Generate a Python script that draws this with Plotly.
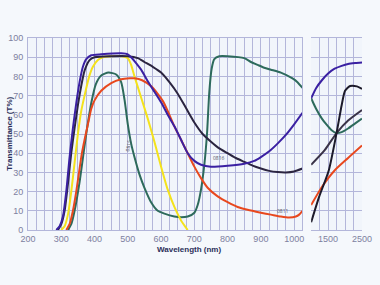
import plotly.graph_objects as go

# ---------------- data (wavelength nm, transmittance %) ----------------
violet_wl = [285, 295, 305, 315, 325, 335, 345, 355, 365, 375, 390, 420, 480, 500, 510, 520, 540, 560, 580, 600,
             620, 640, 660, 680, 700, 720, 750, 800, 850, 880, 900, 925, 950, 975, 1000, 1025]
violet_T = [0, 2, 7, 20, 38, 53, 66, 77, 85, 89, 91, 91.5, 92, 91.5, 90, 88, 83.5, 77.5, 72, 66.5,
            60, 54, 47, 40, 36, 34, 33, 33.5, 34.5, 36, 38, 41, 45, 49.5, 55, 61]

dark_wl = [290, 300, 310, 320, 330, 340, 350, 360, 370, 385, 400, 450, 500, 530, 550, 575, 600, 625, 650, 675,
           700, 725, 750, 775, 800, 825, 850, 875, 900, 925, 950, 975, 1000, 1025]
dark_T = [0, 3, 10, 24, 40, 53, 65, 75, 83, 88.5, 90, 90.5, 90.5, 89.5, 87.5, 85, 82, 77, 71, 63.5,
          56, 50, 46, 42.5, 40, 37.5, 35.5, 33.5, 32, 30.8, 30.2, 30, 30.5, 32]

yellow_wl = [300, 310, 320, 330, 340, 350, 360, 370, 384, 395, 410, 425, 450, 480, 500, 510, 520, 540, 560, 580,
             600, 620, 640, 660, 680]
yellow_T = [0, 2, 8, 20, 35, 50, 62, 70, 80, 85, 88.5, 90, 90.5, 90.5, 89.5, 86, 80, 69, 58, 46,
            33, 21, 12, 5, 0]

teal_wl = [320, 330, 340, 355, 367, 375, 390, 404, 420, 442, 465, 480, 490, 500, 510, 520, 535, 550, 570, 590,
           610, 640, 660, 680, 700, 710, 720, 730, 738, 745, 752, 760, 775, 800, 850, 870, 890, 910, 930, 960,
           995, 1010, 1025]
teal_T = [0, 3, 10, 25, 40, 50, 66, 76, 80.5, 82, 81, 77, 68, 55, 45, 38, 29, 22, 14.5, 10,
          8.5, 7, 6.6, 7, 9, 13, 21, 34, 50, 72, 84, 89, 90.5, 90.5, 89.5, 87.5, 86, 84.5, 83.5, 82,
          79, 77, 74]

red_wl = [315, 325, 335, 345, 355, 362, 370, 380, 390, 400, 420, 450, 480, 505, 520, 543, 572, 606, 640, 660,
          680, 700, 720, 740, 770, 800, 830, 860, 900, 930, 960, 985, 1005, 1015, 1025]
red_T = [0, 3, 10, 20, 32, 40, 47, 55, 63, 67.5, 72.5, 76.5, 78.5, 79, 79, 78, 74.6, 67, 54, 47,
         40, 33, 27, 22, 17.5, 14.5, 12, 10.5, 9, 8, 7, 6.5, 7, 8, 10]

# right panel (1000-2500 nm)
violet2_wl = [1000, 1150, 1317, 1500, 1692, 1900, 2090, 2300, 2500]
violet2_T = [68.6, 74, 78, 81.5, 84, 85.5, 86.5, 87, 87.3]
teal2_wl = [1000, 1150, 1317, 1450, 1605, 1750, 1900, 2100, 2300, 2500]
teal2_T = [68.6, 63, 58, 55, 52, 50.5, 51, 53, 55.5, 58]
darkA_wl = [1000, 1400, 1750, 2090, 2500]
darkA_T = [34, 41.6, 50.5, 57, 62.5]
darkB_wl = [1000, 1230, 1520, 1750, 1900, 2000, 2150, 2350, 2500]
darkB_T = [4, 17, 31, 50.5, 65, 72.5, 75, 74.8, 73.5]
red2_wl = [1000, 1317, 1692, 2090, 2500]
red2_T = [13, 22.4, 31, 37.5, 44]

main_ticks = list(range(200, 1026, 25))
main_text = [str(v) if v % 100 == 0 else "" for v in main_ticks]
right_ticks = list(range(1000, 2501, 250))
right_text = ["1500" if v == 1500 else ("2500" if v == 2500 else "") for v in right_ticks]
y_ticks = list(range(0, 101, 10))

# ---------------- style ----------------
C_VIOLET = "#3a20a2"
C_DARK = "#2b2540"
C_YELLOW = "#f4e21c"
C_TEAL = "#2d6a5c"
C_RED = "#e8481e"
GRID = "#b3b6da"
TICKC = "#7d80a0"
TITLEC = "#2a2f5a"

fig = go.Figure()

def add(wl, T, color, axis="x", width=2.0):
    fig.add_trace(go.Scatter(x=wl, y=T, mode="lines", xaxis=axis, yaxis="y",
                             line=dict(color=color, width=width, shape="spline", smoothing=0.6),
                             hoverinfo="skip", showlegend=False))

add(teal_wl, teal_T, C_TEAL)
add(yellow_wl, yellow_T, C_YELLOW)
add(red_wl, red_T, C_RED)
add(dark_wl, dark_T, C_DARK)
add(violet_wl, violet_T, C_VIOLET)

add(teal2_wl, teal2_T, C_TEAL, "x2")
add(red2_wl, red2_T, C_RED, "x2")
add(darkA_wl, darkA_T, "#3a3348", "x2")
add(darkB_wl, darkB_T, "#1c1a2a", "x2")
add(violet2_wl, violet2_T, C_VIOLET, "x2")

axis_common = dict(showgrid=True, gridcolor=GRID, gridwidth=1, showline=True, linecolor=GRID,
                   linewidth=1, mirror=True, zeroline=False, ticks="", ticklabeloverflow="allow",
                   tickfont=dict(family="Liberation Sans, Arial", size=9, color=TICKC))

fig.update_layout(
    width=380, height=285,
    margin=dict(l=24, r=8, t=38, b=55),
    paper_bgcolor="#f5f8fc",
    plot_bgcolor="#f1f5fb",
    xaxis=dict(domain=[0, 0.8218], range=[200, 1025], tickvals=main_ticks, ticktext=main_text,
               anchor="y", **axis_common),
    xaxis2=dict(domain=[0.8477, 1], range=[1000, 2500], tickvals=right_ticks, ticktext=right_text,
                anchor="y", **axis_common),
    yaxis=dict(range=[0, 100], tickvals=y_ticks, anchor="x", ticklabelstandoff=2, **axis_common),
    annotations=[
        dict(text="<b>Transmittance (T%)</b>", xref="paper", yref="paper", x=-0.058, y=0.5,
             textangle=-90, showarrow=False, font=dict(family="Liberation Sans, Arial", size=8, color=TITLEC),
             xanchor="center", yanchor="middle"),
        dict(text="<b>Wavelength (nm)</b>", xref="paper", yref="paper", x=0.483, y=-0.068,
             showarrow=False, font=dict(family="Liberation Sans, Arial", size=8, color=TITLEC),
             xanchor="center", yanchor="top"),
        dict(text="0811", x=965, y=10, xref="x", yref="y", showarrow=False,
             font=dict(size=5, color="#555566")),
        dict(text="0816", x=775, y=37.5, xref="x", yref="y", showarrow=False,
             font=dict(size=5, color="#555566")),
        dict(text="0815", x=500, y=44, xref="x", yref="y", showarrow=False, textangle=-80,
             font=dict(size=5, color="#555566")),
    ],
)

fig.write_html("out.html")
